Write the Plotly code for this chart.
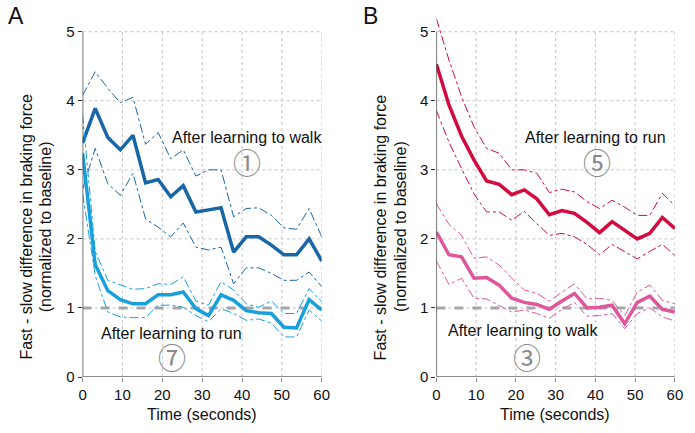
import plotly.graph_objects as go

TIME = [0, 3.16, 6.32, 9.47, 12.63, 15.79, 18.95, 22.11, 25.26, 28.42,
        31.58, 34.74, 37.89, 41.05, 44.21, 47.37, 50.53, 53.68, 56.84, 60]

# Panel A
A_WALK_MEAN = [3.39, 3.89, 3.47, 3.29, 3.50, 2.81, 2.86, 2.61, 2.77, 2.39,
               2.42, 2.45, 1.81, 2.03, 2.03, 1.91, 1.77, 1.77, 2.00, 1.68]
A_WALK_UP = [4.08, 4.42, 4.18, 3.97, 4.05, 3.37, 3.54, 3.16, 3.29, 2.91,
             3.00, 3.00, 2.32, 2.44, 2.45, 2.34, 2.16, 2.14, 2.44, 2.03]
A_WALK_LO = [2.72, 3.31, 2.80, 2.63, 2.95, 2.29, 2.17, 2.03, 2.23, 1.88,
             1.84, 1.88, 1.35, 1.58, 1.58, 1.50, 1.40, 1.40, 1.52, 1.31]
A_RUN_MEAN = [3.24, 1.63, 1.25, 1.12, 1.06, 1.06, 1.19, 1.19, 1.23, 0.99,
              0.89, 1.19, 1.11, 0.96, 0.93, 0.92, 0.72, 0.71, 1.12, 0.97]
A_RUN_UP = [3.80, 1.82, 1.40, 1.33, 1.27, 1.28, 1.35, 1.34, 1.45, 1.10,
            1.04, 1.38, 1.26, 1.06, 1.01, 1.10, 0.92, 0.92, 1.28, 1.09]
A_RUN_LO = [2.65, 1.47, 0.94, 0.87, 0.86, 0.86, 1.04, 1.04, 1.01, 0.89,
            0.80, 0.99, 0.92, 0.82, 0.84, 0.78, 0.58, 0.58, 0.97, 0.81]

# Panel B
B_RUN_MEAN = [4.53, 3.94, 3.49, 3.14, 2.84, 2.79, 2.64, 2.71, 2.58, 2.35,
              2.41, 2.37, 2.24, 2.09, 2.25, 2.13, 2.00, 2.08, 2.31, 2.15]
B_RUN_UP = [5.19, 4.59, 4.06, 3.62, 3.31, 3.24, 3.00, 3.00, 2.95, 2.67,
            2.72, 2.68, 2.54, 2.44, 2.56, 2.46, 2.34, 2.34, 2.66, 2.48]
B_RUN_LO = [3.86, 3.40, 3.02, 2.65, 2.39, 2.39, 2.27, 2.40, 2.22, 2.05,
            2.08, 2.03, 1.92, 1.77, 1.92, 1.81, 1.71, 1.82, 1.92, 1.76]
B_WALK_MEAN = [2.10, 1.77, 1.74, 1.43, 1.44, 1.33, 1.14, 1.08, 1.05, 0.98,
               1.10, 1.21, 1.00, 1.01, 1.04, 0.77, 1.08, 1.17, 0.98, 0.94]
B_WALK_UP = [2.51, 2.21, 2.05, 1.72, 1.74, 1.62, 1.43, 1.26, 1.21, 1.10,
             1.23, 1.35, 1.13, 1.14, 1.11, 0.89, 1.23, 1.33, 1.11, 1.06]
B_WALK_LO = [1.68, 1.34, 1.43, 1.14, 1.13, 1.04, 0.94, 0.97, 0.92, 0.85,
             0.98, 1.08, 0.88, 0.89, 0.92, 0.70, 0.92, 1.00, 0.87, 0.81]

BASELINE_X = [0, 60]
BASELINE_Y = [1, 1]
X_TICKS = [0, 10, 20, 30, 40, 50, 60]
Y_TICKS = [0, 1, 2, 3, 4, 5]

DARK_BLUE = "#1766a8"
LIGHT_BLUE = "#18a0dc"
CRIMSON = "#d20a3e"
PINK = "#e0569a"
FONT = "Liberation Sans, Arial, sans-serif"

fig = go.Figure()

def add_series(xa, ya, mean, up, lo, color):
    for band in (up, lo):
        fig.add_trace(go.Scatter(x=TIME, y=band, mode="lines", xaxis=xa, yaxis=ya,
                                 line=dict(color=color, width=1, dash="dashdot"),
                                 showlegend=False, hoverinfo="skip"))
    fig.add_trace(go.Scatter(x=TIME, y=mean, mode="lines", xaxis=xa, yaxis=ya,
                             line=dict(color=color, width=3.5), showlegend=False))

for xa, ya in (("x", "y"), ("x2", "y2")):
    fig.add_trace(go.Scatter(x=BASELINE_X, y=BASELINE_Y, mode="lines", xaxis=xa, yaxis=ya,
                             line=dict(color="#a6a6a6", width=3, dash="dash"),
                             showlegend=False, hoverinfo="skip"))

add_series("x", "y", A_WALK_MEAN, A_WALK_UP, A_WALK_LO, DARK_BLUE)
add_series("x", "y", A_RUN_MEAN, A_RUN_UP, A_RUN_LO, LIGHT_BLUE)
add_series("x2", "y2", B_RUN_MEAN, B_RUN_UP, B_RUN_LO, CRIMSON)
add_series("x2", "y2", B_WALK_MEAN, B_WALK_UP, B_WALK_LO, PINK)

shapes = []
for xr, yr in (("x", "y"), ("x2", "y2")):
    for v in Y_TICKS[1:]:
        shapes.append(dict(type="line", xref=xr, yref=yr, x0=0, x1=60, y0=v, y1=v,
                           line=dict(color="#c4c4c4", width=1, dash="dot"), layer="below"))
    for v in X_TICKS[1:]:
        shapes.append(dict(type="line", xref=xr, yref=yr, x0=v, x1=v, y0=0, y1=5,
                           line=dict(color="#c4c4c4", width=1, dash="dot"), layer="below"))
    shapes.append(dict(type="line", xref=xr, yref=yr, x0=0, x1=0, y0=0, y1=5,
                       line=dict(color="#333333", width=1.3)))
    shapes.append(dict(type="line", xref=xr, yref=yr, x0=0, x1=60, y0=0, y1=0,
                       line=dict(color="#8c8c8c", width=2)))

axis_common_x = dict(range=[0, 60], tickvals=X_TICKS, showgrid=False, zeroline=False,
                     showline=False, ticks="outside", ticklen=4, tickcolor="#8c8c8c",
                     tickfont=dict(size=15, color="#111111", family=FONT), fixedrange=True)
axis_common_y = dict(range=[0, 5.3], tickvals=Y_TICKS, showgrid=False, zeroline=False,
                     showline=False, ticks="outside", ticklen=4, tickcolor="#333333",
                     tickfont=dict(size=15, color="#111111", family=FONT), fixedrange=True)

W, H = 695, 433
M_T, M_B = 11, 56
PLOT_H = H - M_T - M_B
annotations = []
def ann(text, x, y, size=16, color="#111111", family=FONT, angle=0):
    annotations.append(dict(text=text, x=x / W, y=(H - M_B - y) / PLOT_H,
                            xref="paper", yref="paper",
                            showarrow=False, font=dict(size=size, color=color, family=family),
                            textangle=angle, xanchor="center", yanchor="middle"))

ann("A", 12, 16, size=23)
ann("B", 373, 16, size=23)
for cx in (22, 383):
    ann("Fast - slow difference in braking force", cx, 227, angle=-90)
    ann("(normalized to baseline)", cx + 20, 227, angle=-90)
ann("Time (seconds)", 201, 415)
ann("Time (seconds)", 561, 415)

ann("After learning to walk", 247, 137)
ann("After learning to run", 170, 333)
ann("After learning to run", 602, 137)
ann("After learning to walk", 528, 330)
CJK = "Noto Sans CJK JP"
ann("①", 247, 162, size=28, color="#8a8a8a", family=CJK)
ann("⑦", 171, 357, size=28, color="#8a8a8a", family=CJK)
ann("⑤", 603, 162, size=28, color="#8a8a8a", family=CJK)
ann("③", 532, 357, size=28, color="#8a8a8a", family=CJK)

fig.update_layout(
    width=W, height=H,
    margin=dict(l=0, r=0, t=M_T, b=M_B),
    paper_bgcolor="white", plot_bgcolor="white",
    xaxis=dict(domain=[80 / W, 323.3 / W], anchor="y", **axis_common_x),
    yaxis=dict(domain=[0, 1], anchor="x", **axis_common_y),
    xaxis2=dict(domain=[440 / W, 682.7 / W], anchor="y2", **axis_common_x),
    yaxis2=dict(domain=[0, 1], anchor="x2", **axis_common_y),
    shapes=shapes, annotations=annotations,
    font=dict(family=FONT),
)

fig.write_html("out.html", config={"displayModeBar": False},
               post_script="document.body.style.margin='0';document.body.style.overflow='hidden';")
